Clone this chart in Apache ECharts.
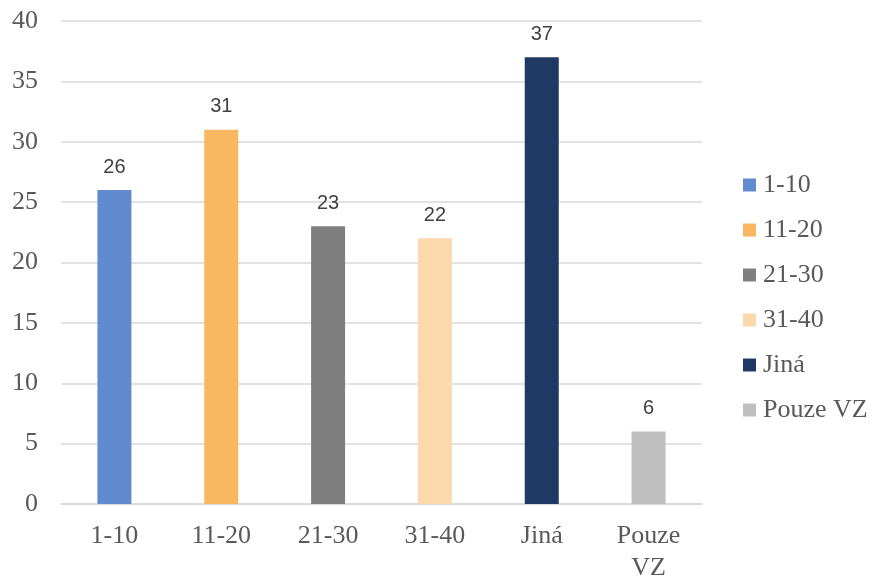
<!DOCTYPE html>
<html>
<head>
<meta charset="utf-8">
<script src="https://cdn.jsdelivr.net/npm/echarts@6/dist/echarts.min.js"></script>
<style>
  html, body { margin: 0; padding: 0; background: #fff; }
  #chart { width: 874px; height: 577px; }
</style>
</head>
<body>
<div id="chart"></div>
<script>
// Category names, values and bar colours
const categories = ['1-10', '11-20', '21-30', '31-40', 'Jiná', 'Pouze VZ'];
const axisLabels = ['1-10', '11-20', '21-30', '31-40', 'Jiná', 'Pouze\nVZ'];
const values = [26, 31, 23, 22, 37, 6];
const colors = ['#618ACF', '#F9B761', '#7F7F7F', '#FCD9AD', '#203864', '#BFBFBF'];
const yTicks = { min: 0, max: 40, interval: 5 };

const serif = '"Liberation Serif", "Times New Roman", serif';
const sans = '"Liberation Sans", Arial, sans-serif';

// One series per category so each gets its own legend entry;
// stacking keeps every bar centred in its category band.
const series = categories.map((name, i) => ({
  name: name,
  type: 'bar',
  stack: 'all',
  barWidth: 34,
  itemStyle: { color: colors[i] },
  label: {
    show: true,
    position: 'top',
    distance: 13,
    color: '#404040',
    fontFamily: sans,
    fontSize: 20
  },
  data: categories.map((_, j) => (j === i ? values[i] : '-'))
}));

const chart = echarts.init(document.getElementById('chart'));
chart.setOption({
  animation: false,
  grid: { left: 61, right: 172, top: 21, bottom: 73, containLabel: false, outerBoundsMode: 'none' },
  legend: {
    orient: 'vertical',
    left: 738,
    top: 167,
    itemWidth: 13,
    itemHeight: 13,
    itemGap: 19,
    icon: 'rect',
    textStyle: { fontFamily: serif, fontSize: 26, color: '#595959', padding: [0, 0, 0, 2] },
    data: categories
  },
  xAxis: {
    type: 'category',
    data: categories,
    axisLine: { show: true, lineStyle: { color: '#D9D9D9', width: 1.5 } },
    axisTick: { show: false },
    axisLabel: {
      fontFamily: serif,
      fontSize: 26,
      color: '#595959',
      margin: 16,
      lineHeight: 32,
      formatter: (v, i) => axisLabels[i]
    }
  },
  yAxis: {
    type: 'value',
    min: yTicks.min,
    max: yTicks.max,
    interval: yTicks.interval,
    axisLine: { show: false },
    axisTick: { show: false },
    splitLine: { lineStyle: { color: '#D9D9D9', width: 1.5 } },
    axisLabel: {
      fontFamily: serif,
      fontSize: 26,
      color: '#595959',
      margin: 23
    }
  },
  series: series
});
</script>
</body>
</html>
